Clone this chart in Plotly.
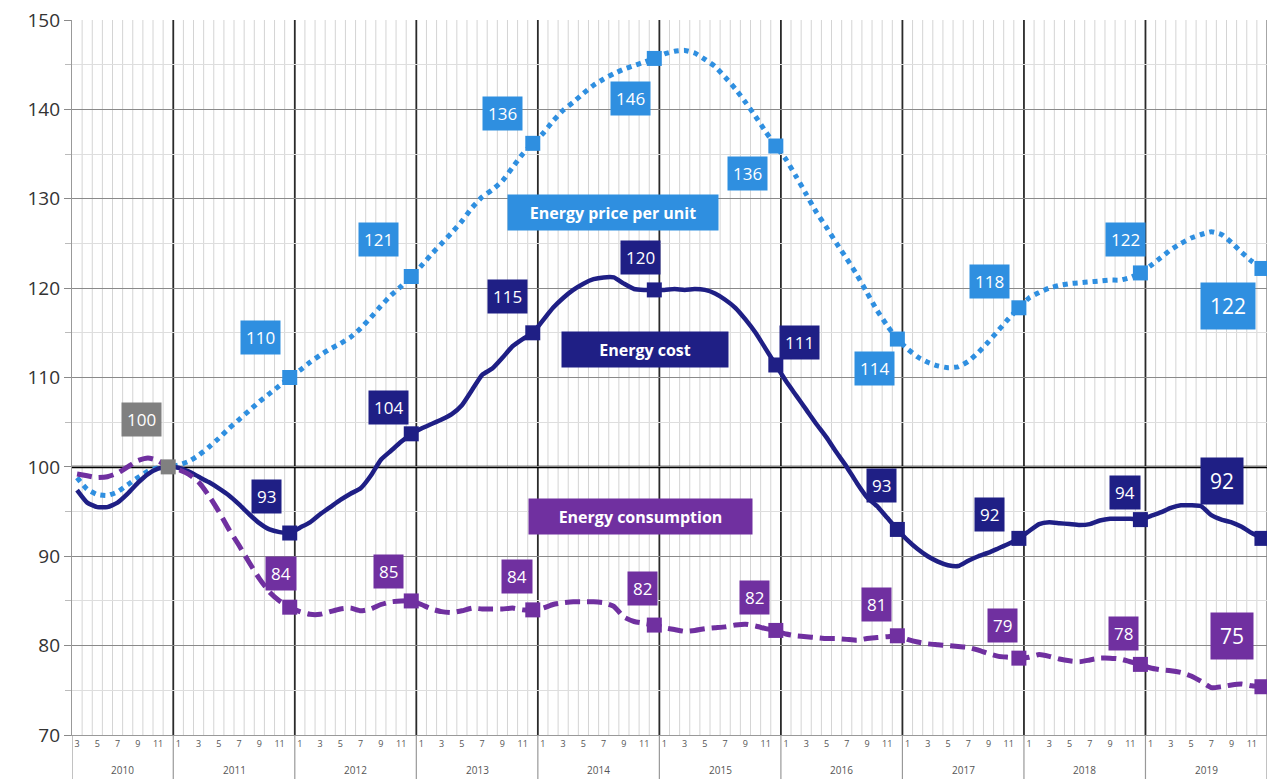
import plotly.graph_objects as go

# Monthly index values, March 2010 .. December 2019 (December 2010 = 100)
years = [2010, 2011, 2012, 2013, 2014, 2015, 2016, 2017, 2018, 2019]
first_month = 3

price_per_unit = [
    98.8, 97.5, 96.9, 96.8, 97.2, 98.0, 98.8, 99.5, 99.9, 100.0,
    100.2, 100.6, 101.3, 102.2, 103.2, 104.3, 105.3, 106.3, 107.3, 108.2, 109.1, 110.0,
    110.8, 111.7, 112.5, 113.2, 113.8, 114.5, 115.5, 116.7, 118.0, 119.2, 120.2, 121.3,
    122.5, 123.8, 125.0, 126.2, 127.5, 129.0, 130.2, 131.0, 132.0, 133.5, 135.0, 136.2,
    137.3, 138.7, 139.9, 140.8, 141.8, 142.7, 143.4, 144.0, 144.5, 144.9, 145.3, 145.7,
    146.2, 146.5, 146.6, 146.3, 145.6, 144.8, 143.6, 142.3, 140.8, 139.2, 137.5, 135.9,
    134.4, 132.5, 130.5, 128.5, 126.8, 125.0, 123.3, 121.5, 119.5, 117.5, 115.8, 114.3,
    113.2, 112.3, 111.7, 111.3, 111.1, 111.2, 111.8, 112.8, 114.0, 115.3, 116.6, 117.8,
    118.9, 119.5, 120.0, 120.3, 120.5, 120.6, 120.7, 120.8, 120.9, 120.9, 121.2, 121.7,
    122.5, 123.4, 124.3, 125.0, 125.6, 126.0, 126.3, 126.0, 125.1, 124.0, 123.0, 122.2,
]

energy_cost = [
    97.4, 96.0, 95.5, 95.5, 96.0, 97.0, 98.2, 99.2, 99.8, 100.0,
    99.9, 99.5, 98.9, 98.3, 97.6, 96.8, 95.8, 94.7, 93.7, 93.0, 92.7, 92.6,
    93.2, 93.8, 94.7, 95.5, 96.3, 97.0, 97.6, 99.0, 100.8, 101.8, 102.8, 103.7,
    104.3, 104.8, 105.3, 105.9, 106.9, 108.6, 110.3, 111.0, 112.2, 113.5, 114.3, 115.0,
    116.4, 117.8, 118.9, 119.8, 120.5, 121.0, 121.2, 121.2, 120.5, 119.9, 119.8, 119.8,
    119.8, 119.9, 119.8, 119.9, 119.8, 119.4, 118.7, 117.8, 116.5, 115.0, 113.2, 111.4,
    109.6, 108.0, 106.4, 104.8, 103.3, 101.6, 100.0, 98.2, 96.6, 95.6, 94.3, 93.0,
    91.8, 90.8, 90.0, 89.4, 89.0, 88.9, 89.5, 90.0, 90.4, 90.9, 91.4, 92.0,
    92.8, 93.6, 93.8, 93.7, 93.6, 93.5, 93.6, 94.0, 94.2, 94.2, 94.2, 94.1,
    94.5, 94.9, 95.4, 95.7, 95.7, 95.6, 94.6, 94.1, 93.8, 93.3, 92.6, 92.0,
]

energy_consumption = [
    99.2, 99.0, 98.8, 98.9, 99.3, 100.0, 100.7, 101.0, 100.7, 100.0,
    99.7, 99.2, 98.3, 96.8, 95.0, 93.0, 91.2, 89.3, 87.5, 86.0, 85.0, 84.3,
    83.8, 83.5, 83.5, 83.8, 84.1, 84.2, 83.9, 84.1, 84.6, 84.9, 85.0, 85.0,
    84.6, 84.1, 83.8, 83.7, 83.9, 84.2, 84.1, 84.1, 84.1, 84.2, 84.0, 84.0,
    84.2, 84.6, 84.8, 84.9, 84.9, 84.9, 84.8, 84.4, 83.2, 82.7, 82.5, 82.3,
    82.0, 81.8, 81.6, 81.7, 81.9, 82.0, 82.1, 82.3, 82.4, 82.2, 81.9, 81.7,
    81.3, 81.1, 81.0, 80.9, 80.8, 80.8, 80.7, 80.6, 80.8, 80.9, 81.0, 81.1,
    80.7, 80.4, 80.2, 80.1, 80.0, 79.9, 79.8, 79.5, 79.1, 78.8, 78.7, 78.6,
    78.7, 79.0, 78.8, 78.5, 78.3, 78.2, 78.4, 78.6, 78.6, 78.5, 78.2, 77.9,
    77.5, 77.3, 77.2, 77.0, 76.6, 76.0, 75.3, 75.4, 75.6, 75.7, 75.5, 75.4,
]

series_names = ["Energy price per unit", "Energy cost", "Energy consumption"]

# ---- styling ----
C_PRICE = "#2f8fe0"
C_COST = "#1f1f85"
C_CONS = "#7030a0"
C_BASE = "#808080"
FONT = "Open Sans"

n = len(price_per_unit)
x = list(range(n))
month_of = [(first_month - 1 + i) % 12 + 1 for i in x]
year_of = [years[0] + (first_month - 1 + i) // 12 for i in x]
dec_idx = [i for i in x if month_of[i] == 12]
base_idx = dec_idx[0]
mark_idx = dec_idx[1:]

fig = go.Figure()

line_styles = [
    (price_per_unit, C_PRICE, dict(width=5, dash="5px,5px")),
    (energy_cost, C_COST, dict(width=4.5)),
    (energy_consumption, C_CONS, dict(width=5, dash="15px,7px")),
]
for (vals, col, lst), name in zip(line_styles, series_names):
    fig.add_trace(go.Scatter(
        x=x, y=vals, mode="lines", name=name,
        line=dict(color=col, shape="spline", smoothing=0.5, **lst),
        showlegend=False, hoverinfo="skip",
    ))
    fig.add_trace(go.Scatter(
        x=mark_idx, y=[vals[i] for i in mark_idx], mode="markers",
        marker=dict(symbol="square", size=15, color=col),
        showlegend=False, hoverinfo="skip",
    ))

# common base point
fig.add_trace(go.Scatter(
    x=[base_idx], y=[price_per_unit[base_idx]], mode="markers",
    marker=dict(symbol="square", size=15, color=C_BASE),
    showlegend=False, hoverinfo="skip",
))

annotations = []


def box(xv, yv, txt, bg, dx, dy, size=16, pad=5, bold=False, w=None, h=None):
    t = f"<b>{txt}</b>" if bold else txt
    a = dict(
        x=xv, y=yv, xref="x", yref="y", text=t, showarrow=False,
        xshift=dx, yshift=-dy, bgcolor=bg, borderpad=pad,
        font=dict(family=FONT, size=size, color="white"),
        xanchor="center", yanchor="middle",
    )
    if w:
        a["width"] = w
    if h:
        a["height"] = h
    annotations.append(a)


# value labels at the December points (pixel offsets from the marker)
price_off = [(-29, -40), (-33, -37), (-30, -30), (-24, 40), (-28, 27),
             (-23, 29), (-29, -26), (-15, -33), (-34, 38)]
cost_off = [(-23, -37), (-23, -26), (-25, -36), (-14, -32), (24, -22),
            (-16, -44), (-29, -24), (-15, -27), (-40, -57)]
cons_off = [(-9, -34), (-23, -29), (-16, -33), (-12, -37), (-21, -33),
            (-21, -31), (-16, -33), (-17, -31), (-30, -51)]

for vals, col, offs in [(price_per_unit, C_PRICE, price_off),
                        (energy_cost, C_COST, cost_off),
                        (energy_consumption, C_CONS, cons_off)]:
    for k, (i, (dx, dy)) in enumerate(zip(mark_idx, offs)):
        last = k == len(mark_idx) - 1
        box(i, vals[i], f"{vals[i]:.0f}", col, dx, dy,
            size=21 if last else 17, pad=9 if last else 5)

box(base_idx, price_per_unit[base_idx], f"{price_per_unit[base_idx]:.0f}",
    C_BASE, -27, -47, size=17)

# series name boxes
box(52.9, 128.5, series_names[0], C_PRICE, 0, 0, size=16, pad=6, bold=True, w=198, h=23)
box(56.1, 113.1, series_names[1], C_COST, 0, 0, size=16, pad=6, bold=True, w=154, h=23)
box(55.6, 94.4, series_names[2], C_CONS, 0, 0, size=16, pad=6, bold=True, w=211, h=23)

# year labels under the month numbers
for yr in years:
    idxs = [i for i in x if year_of[i] == yr]
    annotations.append(dict(
        x=(idxs[0] + idxs[-1]) / 2, y=-0.049, xref="x", yref="paper",
        text=str(yr), showarrow=False, yanchor="middle",
        font=dict(family=FONT, size=10, color="#555"),
    ))

shapes = []
# thin month grid
for i in range(n + 1):
    b = i - 0.5
    is_year = (i < n and month_of[i] == 1) or i == 0 or i == n
    if not is_year:
        shapes.append(dict(type="line", xref="x", yref="paper", x0=b, x1=b, y0=0, y1=1,
                           line=dict(color="#d4d4d4", width=1), layer="below"))
# year boundaries
for i in range(1, n):
    if month_of[i] == 1:
        b = i - 0.5
        shapes.append(dict(type="line", xref="x", yref="paper", x0=b, x1=b, y0=0, y1=1,
                           line=dict(color="#2a2a2a", width=1.8), layer="below"))
for b in [-0.5] + [i - 0.5 for i in range(1, n) if month_of[i] == 1] + [n - 0.5]:
    shapes.append(dict(type="line", xref="x", yref="paper", x0=b, x1=b, y0=-0.062, y1=0,
                       line=dict(color="#999", width=1.2), layer="above"))
shapes.append(dict(type="line", xref="x", yref="paper", x0=n - 0.5, x1=n - 0.5, y0=0, y1=1,
                   line=dict(color="#888", width=1.5), layer="below"))
# base line at 100
shapes.append(dict(type="line", xref="paper", yref="y", x0=0, x1=1, y0=100, y1=100,
                   line=dict(color="black", width=2.5), layer="below"))

tick_vals = [i for i in x if month_of[i] % 2 == 1]
tick_text = [str(month_of[i]) for i in tick_vals]

fig.update_layout(
    width=1270, height=779,
    margin=dict(l=72, r=3, t=20, b=44),
    paper_bgcolor="white", plot_bgcolor="white",
    annotations=annotations, shapes=shapes,
    xaxis=dict(
        range=[-0.5, n - 0.5], showgrid=False, zeroline=False,
        tickmode="array", tickvals=tick_vals, ticktext=tick_text,
        tickfont=dict(family=FONT, size=9, color="#555"),
        ticks="", showline=True, linecolor="#999", linewidth=1.2,
    ),
    yaxis=dict(
        range=[70, 150], dtick=10, tick0=70, showgrid=True,
        gridcolor="#8a8a8a", gridwidth=1.2, zeroline=False,
        showline=True, linecolor="#999", linewidth=1.2,
        ticks="outside", ticklen=7, tickcolor="#8a8a8a",
        tickfont=dict(family=FONT, size=19, color="#333"),
        minor=dict(dtick=5, showgrid=True, gridcolor="#dedede", gridwidth=1,
                   ticks="outside", ticklen=6, tickcolor="#bbb"),
    ),
)

fig.write_html("out.html")
